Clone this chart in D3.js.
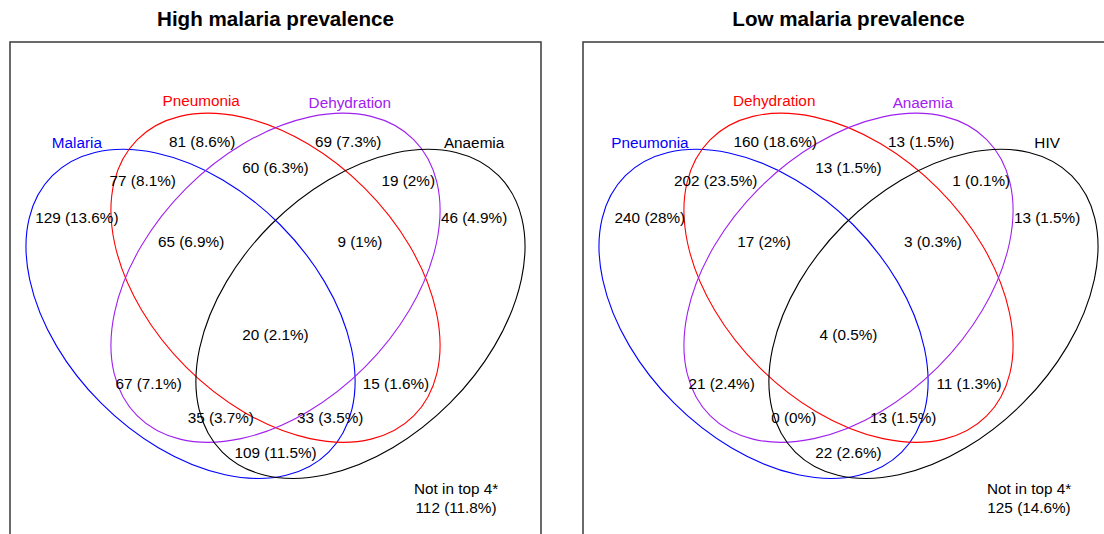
<!DOCTYPE html>
<html><head><meta charset="utf-8">
<script src="https://cdn.jsdelivr.net/npm/d3@7"></script>
<style>
body{margin:0;background:#fff}
svg{display:block}
text{font-family:"Liberation Sans",Arial,Helvetica,sans-serif}
</style>
</head><body>
<svg id="chart" width="1104" height="534"></svg>
<script>
// ---------------- data ----------------
const panelTitles = ["High malaria prevalence", "Low malaria prevalence"];
const highSets = ["Malaria", "Pneumonia", "Dehydration", "Anaemia"];
const lowSets  = ["Pneumonia", "Dehydration", "Anaemia", "HIV"];
// region codes: membership in set 1..4
const regionCodes = ["1000","0100","0010","0001","1100","0110","0011","1110","0111","1111","1010","0101","1011","1101","1001"];
const highCounts = [129, 81, 69, 46, 77, 60, 19, 65, 9, 20, 67, 15, 35, 33, 109];
const highPct    = [13.6, 8.6, 7.3, 4.9, 8.1, 6.3, 2, 6.9, 1, 2.1, 7.1, 1.6, 3.7, 3.5, 11.5];
const lowCounts  = [240, 160, 13, 13, 202, 13, 1, 17, 3, 4, 21, 11, 0, 13, 22];
const lowPct     = [28, 18.6, 1.5, 1.5, 23.5, 1.5, 0.1, 2, 0.3, 0.5, 2.4, 1.3, 0, 1.5, 2.6];
const outsideLabel = "Not in top 4*";
const highOutside = [112, 11.8];
const lowOutside  = [125, 14.6];

// ---------------- layout (unit coords of the panel box) ----------------
const setColors = ["#0000ff", "#ff0000", "#a020f0", "#000000"];
const ellipseCenters = [[0.340, 0.512], [0.5, 0.444], [0.5, 0.444], [0.660, 0.512]];
const ellipseRot = [45, 45, -45, -45];
const ellA = 0.368, ellB = 0.238;
const setLabelPos = [[0.126, 0.190], [0.360, 0.111], [0.640, 0.115], [0.874, 0.190]];
const regionPos = {
  "1000": [0.126, 0.331], "0100": [0.362, 0.188], "0010": [0.637, 0.188], "0001": [0.874, 0.331],
  "1100": [0.250, 0.262], "0110": [0.500, 0.237], "0011": [0.750, 0.262],
  "1110": [0.341, 0.376], "0111": [0.659, 0.376], "1111": [0.500, 0.551],
  "1010": [0.261, 0.644], "0101": [0.727, 0.644],
  "1011": [0.397, 0.708], "1101": [0.603, 0.708], "1001": [0.500, 0.773]
};
const outsidePos = [0.840, 0.842];

const panels = [
  {title: panelTitles[0], sets: highSets, counts: highCounts, pct: highPct, outside: highOutside, left: 10},
  {title: panelTitles[1], sets: lowSets,  counts: lowCounts,  pct: lowPct,  outside: lowOutside,  left: 583}
];
const boxTop = 42, boxSize = 531;
const labelSize = 15.3, titleSize = 20.6;

const svg = d3.select("#chart");
const fmt = (n, p) => `${n} (${p}%)`;

panels.forEach(p => {
  const x = d3.scaleLinear().domain([0, 1]).range([p.left, p.left + boxSize]);
  const y = d3.scaleLinear().domain([0, 1]).range([boxTop, boxTop + boxSize]);
  const k = x(1) - x(0);
  const g = svg.append("g");

  g.append("text")
    .attr("x", x(0.5)).attr("y", 26)
    .attr("text-anchor", "middle")
    .attr("font-weight", "bold").attr("font-size", titleSize)
    .attr("fill", "#000")
    .text(p.title);

  g.append("rect")
    .attr("x", x(0)).attr("y", y(0))
    .attr("width", k).attr("height", k)
    .attr("fill", "none").attr("stroke", "#3a3a3a").attr("stroke-width", 1.5);

  g.selectAll("ellipse.set").data(p.sets).join("ellipse")
    .attr("class", "set")
    .attr("transform", (d, i) => `translate(${x(ellipseCenters[i][0])},${y(ellipseCenters[i][1])}) rotate(${ellipseRot[i]})`)
    .attr("rx", ellA * k).attr("ry", ellB * k)
    .attr("fill", "none")
    .attr("stroke", (d, i) => setColors[i])
    .attr("stroke-width", 1.1);

  g.selectAll("text.setlab").data(p.sets).join("text")
    .attr("class", "setlab")
    .attr("x", (d, i) => x(setLabelPos[i][0]))
    .attr("y", (d, i) => y(setLabelPos[i][1]))
    .attr("dy", "0.35em")
    .attr("text-anchor", "middle").attr("font-size", labelSize)
    .attr("fill", (d, i) => setColors[i])
    .text(d => d);

  g.selectAll("text.region").data(regionCodes).join("text")
    .attr("class", "region")
    .attr("x", d => x(regionPos[d][0]))
    .attr("y", d => y(regionPos[d][1]))
    .attr("dy", "0.35em")
    .attr("text-anchor", "middle").attr("font-size", labelSize)
    .attr("fill", "#000")
    .text((d, i) => fmt(p.counts[i], p.pct[i]));

  const ot = g.append("text")
    .attr("x", x(outsidePos[0])).attr("y", y(outsidePos[1]))
    .attr("text-anchor", "middle").attr("font-size", labelSize).attr("fill", "#000");
  ot.append("tspan").attr("x", x(outsidePos[0])).attr("dy", "0.35em").text(outsideLabel);
  ot.append("tspan").attr("x", x(outsidePos[0])).attr("dy", "1.2em").text(fmt(p.outside[0], p.outside[1]));
});
</script>
</body></html>
